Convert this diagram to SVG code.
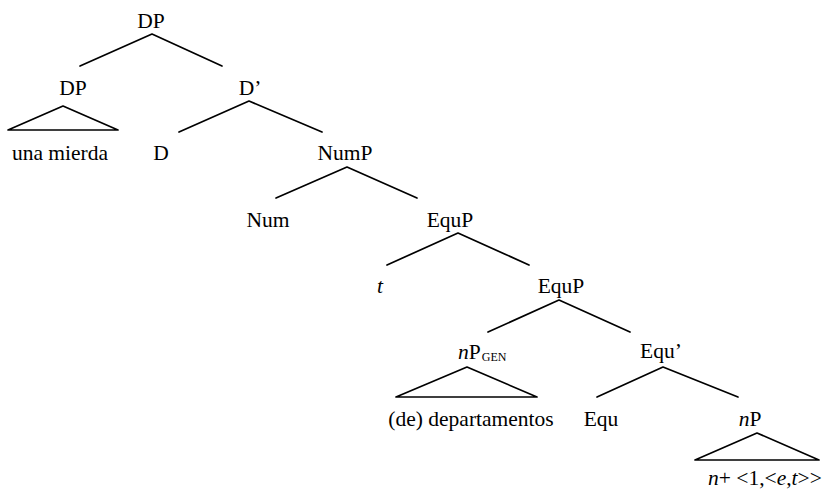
<svg xmlns="http://www.w3.org/2000/svg" width="824" height="490" viewBox="0 0 824 490">
  <style>
    .c { text-anchor: middle; }
    .i { font-style: italic; }
    .edge { stroke: #000; stroke-width: 1.7; fill: none; stroke-linecap: round; stroke-linejoin: round; }
  </style>
  <rect width="824" height="490" fill="#fff"/>

  <!-- branches and triangles -->
  <g id="connectors">
    <polyline class="edge" points="80,66 152,34 222,66"/>
    <polygon class="edge" points="63,106 8,130 118,130"/>
    <polyline class="edge" points="179,132 249,101 322,132"/>
    <polyline class="edge" points="276,198 347,167 417,198"/>
    <polyline class="edge" points="387,265 458,233 529,265"/>
    <polyline class="edge" points="488,332 559,300 630,332"/>
    <polygon class="edge" points="467,367 396,397 537,397"/>
    <polyline class="edge" points="597,397 663,367 738,397"/>
    <polygon class="edge" points="757,433 695,460 819,460"/>
  </g>

  <g id="labels" font-family="Liberation Serif" font-size="21.5" fill="#000">
    <g id="dp-root"><text class="c" x="151" y="28">DP</text></g>
    <g id="dp-spec"><text class="c" x="73" y="95">DP</text></g>
    <g id="una-mierda"><text class="c" x="60" y="160">una mierda</text></g>
    <g id="d-bar"><text class="c" x="250" y="95">D&#8217;</text></g>
    <g id="d-head"><text class="c" x="161" y="160">D</text></g>
    <g id="nump"><text class="c" x="345" y="160">NumP</text></g>
    <g id="num"><text class="c" x="268" y="227">Num</text></g>
    <g id="equp-upper"><text class="c" x="450" y="227">EquP</text></g>
    <g id="trace"><text class="c i" x="380" y="293">t</text></g>
    <g id="equp-lower"><text class="c" x="561" y="293">EquP</text></g>
    <g id="np-gen"><text x="458" y="359"><tspan class="i">n</tspan>P<tspan font-size="12" dx="1" dy="1.5">GEN</tspan></text></g>
    <g id="departamentos"><text class="c" x="471" y="426">(de) departamentos</text></g>
    <g id="equ-bar"><text class="c" x="661" y="358">Equ&#8217;</text></g>
    <g id="equ-head"><text class="c" x="601" y="426">Equ</text></g>
    <g id="np"><text class="c" x="750" y="426"><tspan class="i">n</tspan>P</text></g>
    <g id="np-content"><text x="708" y="485"><tspan class="i">n</tspan>+ &lt;1,&lt;<tspan class="i">e</tspan>,<tspan class="i">t</tspan>&gt;&gt;</text></g>
  </g>
</svg>
